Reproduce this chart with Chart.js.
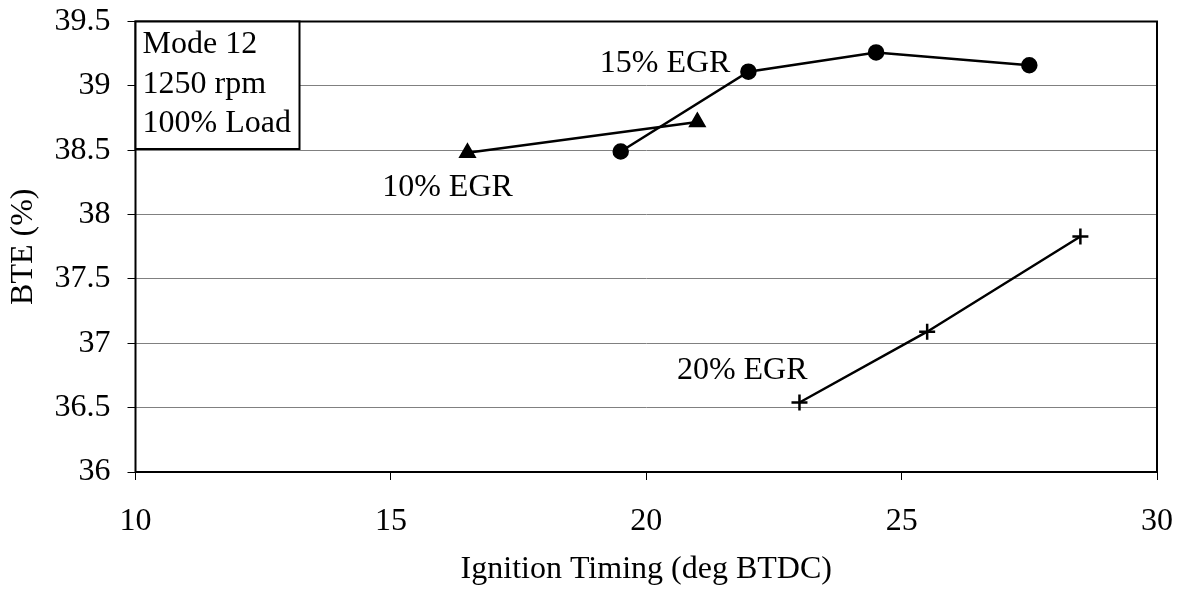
<!DOCTYPE html>
<html>
<head>
<meta charset="utf-8">
<script src="https://cdn.jsdelivr.net/npm/chart.js@4/dist/chart.umd.min.js"></script>
<style>
  html, body { margin: 0; padding: 0; background: #fff; }
  #wrap { width: 1182px; height: 595px; }
</style>
</head>
<body>
<div id="wrap"><canvas id="bteChart"></canvas></div>
<script>
// Data
const egr10X = [16.5, 21];
const egr10Y = [38.48, 38.72];
const egr15X = [19.5, 22, 24.5, 27.5];
const egr15Y = [38.49, 39.11, 39.26, 39.16];
const egr20X = [23, 25.5, 28.5];
const egr20Y = [36.54, 37.09, 37.83];

const xTicks = [10, 15, 20, 25, 30];
const yTicks = [36, 36.5, 37, 37.5, 38, 38.5, 39, 39.5];

// series labels placed in data units (left edge, baseline)
const seriesLabels = [
    { text: '15% EGR', x: 19.09, y: 39.11 },
    { text: '10% EGR', x: 14.83, y: 38.144 },
    { text: '20% EGR', x: 20.60, y: 36.72 }
];
const boxLines = ['Mode 12', '1250 rpm', '100% Load'];

const FONT = '"Liberation Serif", "Times New Roman", serif';
const FSIZE = 32;

function toPoints(xs, ys) {
    return xs.map((x, i) => ({ x: x, y: ys[i] }));
}

// Plot border, info box and series labels
const decorPlugin = {
    id: 'decor',
    afterDatasetsDraw(chart) {
        const { ctx, chartArea, scales } = chart;
        ctx.save();
        ctx.strokeStyle = '#000';
        ctx.lineWidth = 2;
        ctx.strokeRect(chartArea.left, chartArea.top, chartArea.right - chartArea.left, chartArea.bottom - chartArea.top);

        // info box in the top-left corner
        const bx = chartArea.left, by = chartArea.top;
        ctx.fillStyle = '#fff';
        ctx.fillRect(bx, by, 164, 127.5);
        ctx.strokeRect(bx, by, 164, 127.5);
        ctx.fillStyle = '#000';
        ctx.font = FSIZE + 'px ' + FONT;
        ctx.textBaseline = 'alphabetic';
        ctx.textAlign = 'left';
        boxLines.forEach((t, i) => {
            ctx.fillText(t, bx + 7, by + 31.5 + i * 39.5);
        });

        seriesLabels.forEach(l => {
            ctx.fillText(l.text, scales.x.getPixelForValue(l.x), scales.y.getPixelForValue(l.y));
        });
        ctx.restore();
    }
};

const lineStyle = {
    borderColor: '#000',
    backgroundColor: '#000',
    borderWidth: 2.5,
    showLine: true,
    tension: 0,
    pointBorderColor: '#000',
    pointBackgroundColor: '#000'
};

new Chart(document.getElementById('bteChart'), {
    type: 'scatter',
    data: {
        datasets: [
            Object.assign({}, lineStyle, {
                label: '10% EGR',
                data: toPoints(egr10X, egr10Y),
                pointStyle: 'triangle',
                pointRadius: 8
            }),
            Object.assign({}, lineStyle, {
                label: '15% EGR',
                data: toPoints(egr15X, egr15Y),
                pointStyle: 'circle',
                pointRadius: 7
            }),
            Object.assign({}, lineStyle, {
                label: '20% EGR',
                data: toPoints(egr20X, egr20Y),
                pointStyle: 'cross',
                pointRadius: 8,
                pointBorderWidth: 2.5
            })
        ]
    },
    options: {
        responsive: true,
        maintainAspectRatio: false,
        animation: false,
        layout: { padding: { top: 21.5, right: 25, bottom: 0, left: 0 } },
        plugins: {
            legend: { display: false },
            tooltip: { enabled: false }
        },
        scales: {
            x: {
                type: 'linear',
                min: 10,
                max: 30,
                afterBuildTicks(axis) {
                    axis.ticks = xTicks.map(v => ({ value: v }));
                },
                afterFit(axis) {
                    axis.height = 123;
                    axis.paddingLeft = 0;
                    axis.paddingRight = 0;
                },
                grid: {
                    drawOnChartArea: false,
                    drawTicks: true,
                    tickLength: 8,
                    tickColor: '#000',
                    color: '#000'
                },
                border: { display: false },
                ticks: {
                    color: '#000',
                    padding: 22,
                    maxRotation: 0,
                    font: { family: FONT, size: FSIZE }
                },
                title: {
                    display: true,
                    text: 'Ignition Timing (deg BTDC)',
                    color: '#000',
                    padding: { top: 0, bottom: 6 },
                    font: { family: FONT, size: FSIZE }
                }
            },
            y: {
                type: 'linear',
                min: 36,
                max: 39.5,
                afterBuildTicks(axis) {
                    axis.ticks = yTicks.map(v => ({ value: v }));
                },
                afterFit(axis) {
                    axis.width = 135.5;
                    axis.paddingTop = 0;
                    axis.paddingBottom = 0;
                },
                grid: {
                    drawOnChartArea: true,
                    drawTicks: true,
                    tickLength: 8,
                    tickColor: '#000',
                    color: '#808080',
                    lineWidth: 1
                },
                border: { display: false },
                ticks: {
                    color: '#000',
                    padding: 17,
                    font: { family: FONT, size: FSIZE },
                    callback: v => String(v)
                },
                title: {
                    display: true,
                    text: 'BTE (%)',
                    color: '#000',
                    padding: { top: 4, bottom: 0 },
                    font: { family: FONT, size: FSIZE }
                }
            }
        }
    },
    plugins: [decorPlugin]
});
</script>
</body>
</html>
